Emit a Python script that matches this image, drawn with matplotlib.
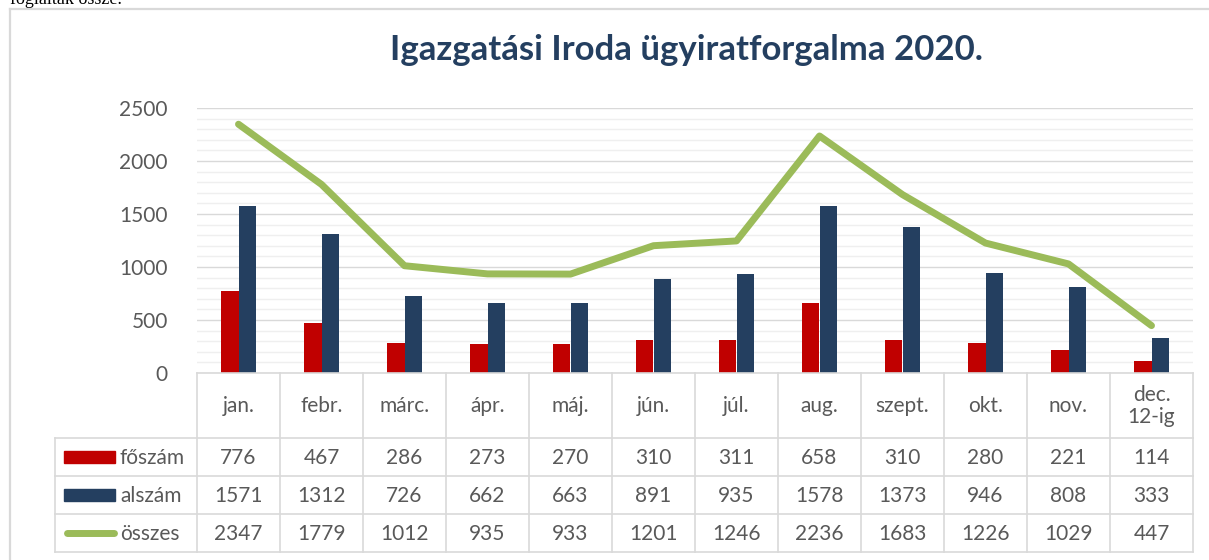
import matplotlib
matplotlib.use("Agg")
import matplotlib.pyplot as plt
from matplotlib.lines import Line2D
from matplotlib.patches import Rectangle
from matplotlib.ticker import MultipleLocator

months = ["jan.", "febr.", "márc.", "ápr.", "máj.", "jún.", "júl.",
          "aug.", "szept.", "okt.", "nov.", "dec.\n12-ig"]
foszam = [776, 467, 286, 273, 270, 310, 311, 658, 310, 280, 221, 114]
alszam = [1571, 1312, 726, 662, 663, 891, 935, 1578, 1373, 946, 808, 333]
osszes = [2347, 1779, 1012, 935, 933, 1201, 1246, 2236, 1683, 1226, 1029, 447]
series_names = ["főszám", "alszám", "összes"]

RED = "#C00000"
NAVY = "#243F60"
GREEN = "#9BBB59"
GRID = "#D9D9D9"
MINOR = "#EFEFEF"
TEXT = "#595959"
FONT = "Lato"
FS = 15

W, H = 1209, 560
fig = plt.figure(figsize=(W / 100, H / 100), dpi=100)
fig.patch.set_facecolor("white")


def px_box(x0, y0, x1, y1):
    # pixel box (top-left origin) -> figure fraction [left, bottom, w, h]
    return [x0 / W, 1 - y1 / H, (x1 - x0) / W, (y1 - y0) / H]


# text of the page above the chart, cut off at the top edge
fig.text(10 / W, 1 - 4 / H, "foglaltak össze.", family="Liberation Serif",
         fontsize=13, va="baseline", ha="left", color="black")

# chart frame
fig.add_artist(Line2D([10 / W, 10 / W], [0, 1 - 9 / H], transform=fig.transFigure,
                      color=GRID, lw=1.6))
fig.add_artist(Line2D([10 / W, 1], [1 - 9 / H, 1 - 9 / H], transform=fig.transFigure,
                      color=GRID, lw=1.6))

fig.text(686 / W, 1 - 50 / H, "Igazgatási Iroda ügyiratforgalma 2020.",
         family=FONT, fontweight="bold", fontsize=25, color=NAVY,
         ha="center", va="center")

# main plot
ax = fig.add_axes(px_box(197, 108, 1193, 373))
x = list(range(len(months)))
bw = 0.21
ax.bar([i - bw / 2 for i in x], foszam, width=bw, color=RED, zorder=3)
ax.bar([i + bw / 2 for i in x], alszam, width=bw, color=NAVY, zorder=3)
ax.plot(x, osszes, color=GREEN, lw=5, solid_capstyle="round",
        solid_joinstyle="round", zorder=4)

ax.set_xlim(-0.5, 11.5)
ax.set_ylim(0, 2500)
ax.yaxis.set_major_locator(MultipleLocator(500))
ax.yaxis.set_minor_locator(MultipleLocator(100))
ax.grid(axis="y", which="minor", color=MINOR, lw=1, zorder=0)
ax.grid(axis="y", which="major", color=GRID, lw=1, zorder=1)
ax.set_xticks([])
ax.tick_params(axis="y", which="both", length=0, pad=21, labelsize=FS,
               labelcolor=TEXT)
for lab in ax.get_yticklabels():
    lab.set_family(FONT)
for s in ax.spines.values():
    s.set_visible(False)

# data table under the plot
tab_left = 55
col_w = 83
tax = fig.add_axes(px_box(tab_left, 373, 1193, 552))
lead = (197 - tab_left) / col_w
tax.set_xlim(-0.5 - lead, 11.5)
tax.set_ylim(179, 0)
tax.axis("off")

row_edges = [0, 65, 103, 141, 179]
lc = dict(color=GRID, lw=1.2, clip_on=False)
tax.plot([-0.5, 11.5], [0, 0], **lc)
for y in row_edges[1:]:
    tax.plot([-0.5 - lead, 11.5], [y, y], **lc)
for i in range(13):
    tax.plot([i - 0.5, i - 0.5], [0, 179], **lc)
tax.plot([-0.5 - lead, -0.5 - lead], [65, 179], **lc)

for i, m in enumerate(months):
    tax.text(i, 33, m, ha="center", va="center", family=FONT, fontsize=FS,
             color=TEXT, linespacing=1.15)

rows = [foszam, alszam, osszes]
for r, vals in enumerate(rows):
    yc = (row_edges[r + 1] + row_edges[r + 2]) / 2 + 1
    for i, v in enumerate(vals):
        tax.text(i, yc, str(v), ha="center", va="center", family=FONT,
                 fontsize=FS, color=TEXT)
    tax.text(-0.5 - lead + 65 / col_w, yc, series_names[r], ha="left",
             va="center", family=FONT, fontsize=FS, color=TEXT)

# legend keys
kx0 = -0.5 - lead + 9 / col_w
kx1 = -0.5 - lead + 60 / col_w
for r, col in enumerate([RED, NAVY]):
    yc = (row_edges[r + 1] + row_edges[r + 2]) / 2
    tax.add_patch(Rectangle((kx0, yc - 6), kx1 - kx0, 12, color=col))
yc = (row_edges[3] + row_edges[4]) / 2
tax.plot([kx0 + 3 / col_w, kx1 - 1 / col_w], [yc, yc], color=GREEN, lw=5,
         solid_capstyle="round")

fig.savefig("out.png", dpi=100)
